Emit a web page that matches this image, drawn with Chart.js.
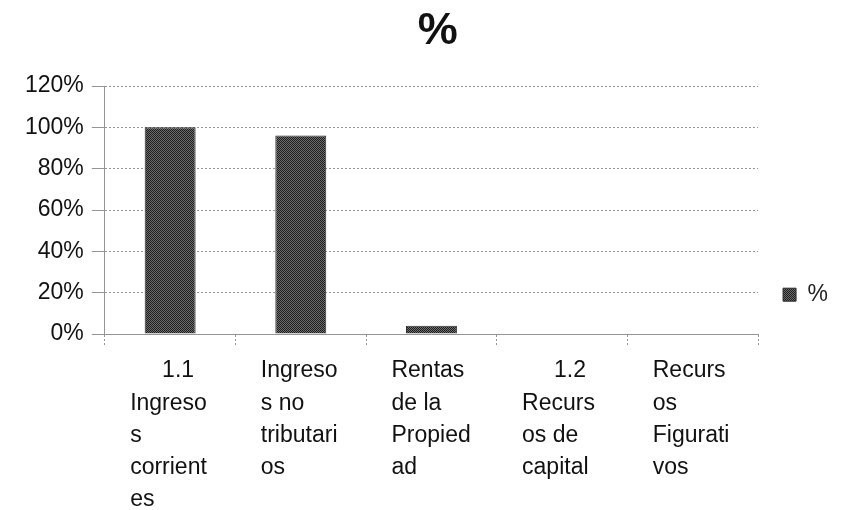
<!DOCTYPE html>
<html>
<head>
<meta charset="utf-8">
<script src="https://cdn.jsdelivr.net/npm/chart.js@4"></script>
<style>
  html, body { margin: 0; padding: 0; background: #fff; }
  #wrap { width: 868px; height: 510px; }
</style>
</head>
<body>
<div id="wrap"><canvas id="myChart" width="868" height="510"></canvas></div>
<script>
// data
const categories = [
  ['     1.1', 'Ingreso', 's', 'corrient', 'es'],
  ['Ingreso', 's no', 'tributari', 'os'],
  ['Rentas', 'de la', 'Propied', 'ad'],
  ['     1.2', 'Recurs', 'os de', 'capital'],
  ['Recurs', 'os', 'Figurati', 'vos']
];
const percentValues = [100, 96, 4, 0, 0];
const yTicks = [0, 20, 40, 60, 80, 100, 120];
const seriesName = '%';

// little checker pattern for the scanned-looking bars
function makePattern() {
  const c = document.createElement('canvas');
  c.width = 2; c.height = 2;
  const g = c.getContext('2d');
  g.fillStyle = '#6c6c6c';
  g.fillRect(0, 0, 2, 2);
  g.fillStyle = '#1e1e1e';
  g.fillRect(0, 0, 1, 1);
  g.fillRect(1, 1, 1, 1);
  return g.createPattern(c, 'repeat');
}

const ctx = document.getElementById('myChart').getContext('2d');
const barFill = makePattern();
const gridGray = '#959595';
const font = 'Liberation Sans, Arial, sans-serif';

new Chart(ctx, {
  type: 'bar',
  data: {
    labels: categories,
    datasets: [{
      label: seriesName,
      data: percentValues,
      backgroundColor: barFill,
      borderColor: '#2a2a2a',
      borderWidth: 1,
      barPercentage: 0.39,
      categoryPercentage: 1
    }]
  },
  options: {
    responsive: false,
    animation: false,
    layout: { padding: { left: 17, right: 30, top: 0, bottom: -15 } },
    plugins: {
      title: {
        display: true,
        fullSize: false,
        text: ' %',
        color: '#111',
        font: { family: font, size: 45, weight: 'bold', lineHeight: 1.2 },
        padding: { top: 5, bottom: 27 }
      },
      legend: {
        position: 'right',
        align: 'center',
        // empty title only pushes the single legend item down
        title: { display: true, text: '', padding: { top: 25, bottom: 25 } },
        labels: {
          boxWidth: 13,
          boxHeight: 13,
          padding: 25,
          color: '#222',
          font: { family: font, size: 23 }
        }
      },
      tooltip: { enabled: false }
    },
    scales: {
      x: {
        grid: {
          drawOnChartArea: false,
          tickLength: 12,
          color: gridGray,
          tickBorderDash: [2, 2]
        },
        border: { color: gridGray, dash: [2, 2] },
        ticks: {
          autoSkip: false,
          maxRotation: 0,
          align: 'start',
          labelOffset: -40,
          padding: 9,
          color: '#111',
          font: { family: font, size: 23, lineHeight: 1.4 }
        }
      },
      y: {
        min: 0,
        max: 120,
        afterBuildTicks: axis => { axis.ticks = yTicks.map(v => ({ value: v })); },
        grid: { color: gridGray, tickLength: 13, borderDash: [2, 2] },
        border: { color: gridGray, dash: [2, 2] },
        ticks: {
          padding: 8,
          color: '#111',
          font: { family: font, size: 23 },
          callback: v => v + '%'
        }
      }
    }
  }
});
</script>
</body>
</html>
